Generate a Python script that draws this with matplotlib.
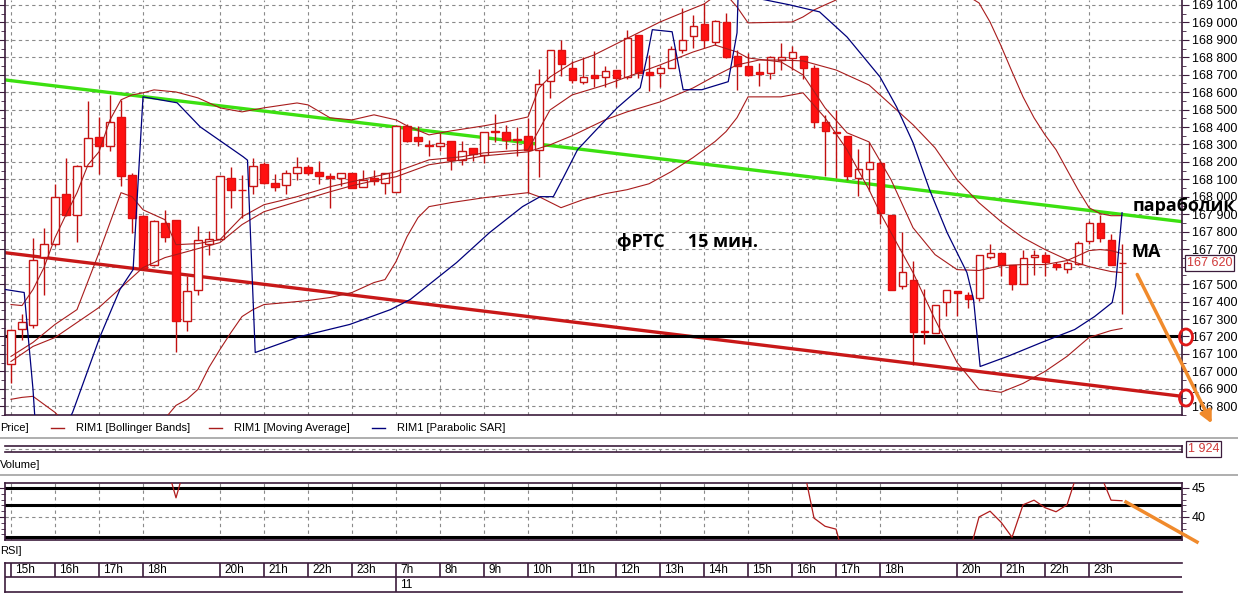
import matplotlib
matplotlib.use('Agg')
import matplotlib.pyplot as plt
import matplotlib.transforms as mtransforms
from matplotlib.patches import Ellipse
import numpy as np

# ---- data (15 min candles, index 0 = first bar) ----
OPEN = [167040, 167240, 167263, 167654, 167730, 168018, 167898, 168179, 168341, 168293,
        168455, 168123, 167893, 167608, 167851, 167870, 167288, 167469, 167730, 167759,
        168108, 168041, 168060, 168188, 168080, 168070, 168137, 168171, 168141, 168122,
        168108, 168137, 168057, 168108, 168080, 168026, 168408, 168341, 168295, 168289,
        168322, 168213, 168280, 168242, 168375, 168370, 168332, 168351, 168267, 168662,
        168839, 168738, 168658, 168700, 168684, 168725, 168686, 168929, 168713, 168709,
        168738, 168839, 168919, 168992, 168885, 169001, 168805, 168751, 168713, 168709,
        168786, 168795, 168808, 168738, 168429, 168373, 168351, 168108, 168160, 168194,
        167898, 167492, 167521, 167229, 167221, 167397, 167459, 167440, 167421, 167654,
        167679, 167608, 167501, 167654, 167666, 167616, 167587, 167618, 167746, 167851,
        167755, 167620]
HIGH = [167240, 167326, 167765, 167822, 168074, 168223, 168185, 168547, 168457, 168581,
        168557, 168137, 167898, 167870, 167927, 167870, 167545, 167835, 167807, 168122,
        168169, 168127, 168223, 168198, 168131, 168156, 168226, 168185, 168204, 168137,
        168137, 168137, 168152, 168152, 168137, 168413, 168419, 168408, 168328, 168366,
        168322, 168318, 168280, 168370, 168476, 168414, 168398, 168452, 168732, 168839,
        168900, 168776, 168801, 168833, 168747, 168725, 168957, 168929, 168814, 168757,
        168862, 169081, 169043, 169110, 169015, 169053, 168843, 168824, 168766, 168808,
        168881, 168862, 168808, 168757, 168471, 168499, 168351, 168274, 168314, 168204,
        167898, 167799, 167631, 167473, 167383, 167465, 167459, 167454, 167669, 167730,
        167679, 167608, 167694, 167694, 167685, 167627, 167631, 167746, 167860, 167898,
        167790, 167727]
LOW = [166935, 167179, 167250, 167435, 167717, 167889, 167740, 168179, 168133, 168261,
       168061, 167793, 167583, 167603, 167740, 167110, 167231, 167440, 167669, 167759,
       167937, 167879, 168017, 168076, 168032, 168017, 168099, 168127, 168074, 167937,
       168060, 168051, 168057, 168070, 168017, 168026, 168314, 168293, 168236, 168261,
       168156, 168181, 168204, 168194, 168312, 168274, 168232, 168022, 168114, 168566,
       168694, 168652, 168646, 168629, 168629, 168629, 168675, 168681, 168604, 168629,
       168738, 168824, 168852, 168852, 168871, 168795, 168614, 168690, 168637, 168675,
       168728, 168728, 168675, 168394, 168122, 168108, 168099, 168003, 168032, 167847,
       167465, 167473, 167034, 167154, 167221, 167316, 167320, 167364, 167402, 167645,
       167549, 167469, 167501, 167555, 167549, 167580, 167561, 167612, 167730, 167740,
       167612, 167326]
CLOSE = [167236, 167282, 167641, 167730, 167999, 167898, 168179, 168337, 168293, 168429,
         168118, 167879, 167593, 167860, 167770, 167288, 167459, 167750, 167761, 168122,
         168038, 168038, 168175, 168080, 168057, 168137, 168171, 168137, 168122, 168108,
         168137, 168051, 168095, 168089, 168137, 168404, 168318, 168318, 168293, 168309,
         168209, 168265, 168247, 168370, 168371, 168328, 168325, 168267, 168648, 168839,
         168761, 168667, 168686, 168679, 168723, 168681, 168910, 168709, 168700, 168738,
         168847, 168896, 168980, 168900, 169009, 168801, 168751, 168700, 168705, 168799,
         168799, 168829, 168738, 168427, 168375, 168366, 168118, 168160, 168198, 167908,
         167465, 167568, 167225, 167225, 167383, 167465, 167450, 167412, 167669, 167679,
         167608, 167501, 167650, 167669, 167627, 167599, 167622, 167736, 167851, 167765,
         167612, 167620]
LAST_PRICE = 167620
VOLUME_LAST = "1 924"

# Bollinger Bands (upper / middle / lower), Moving Average, Parabolic SAR: (bar index, price)
UPPER_IDX = [0, 1, 2, 3, 4, 5, 6, 7, 8, 9, 10, 11, 12, 13, 15, 17, 19, 21, 23, 26, 27, 29, 31, 33,
             35, 36, 38, 40, 43, 45, 47, 48, 49, 51, 53, 55, 57, 59, 61, 63, 64, 65, 66, 67, 71,
             72, 73, 74, 75, 77, 80, 83, 86, 87, 88, 89, 90, 91, 92, 93, 94, 95, 96, 97, 98, 99,
             100, 101]
UPPER_VAL = [167383, 167377, 167469, 167595, 167766, 167898, 168024, 168184, 168258, 168441,
             168556, 168584, 168596, 168613, 168601, 168567, 168510, 168487, 168510, 168538,
             168527, 168453, 168441, 168470, 168441, 168407, 168355, 168378, 168407, 168430,
             168458, 168624, 168687, 168767, 168813, 168876, 168939, 169002, 169054, 169105,
             169150, 169160, 169088, 168997, 169002, 169031, 169071, 169100, 169128, 169300,
             169480, 169480, 169250, 169150, 169111, 169002, 168865, 168717, 168573, 168453,
             168355, 168270, 168155, 168041, 167938, 167904, 167892, 167892]
MID_IDX = [0, 2, 4, 8, 10, 12, 14, 16, 19, 21, 23, 26, 29, 31, 33, 35, 38, 41, 43, 47, 49, 51,
           54, 56, 59, 62, 64, 66, 68, 70, 72, 75, 78, 80, 82, 84, 86, 88, 90, 92, 94, 96, 98,
           100, 101]
MID_VAL = [167057, 167143, 167194, 167366, 167480, 167595, 167652, 167686, 167738, 167841,
           167915, 167972, 168029, 168064, 168092, 168115, 168184, 168212, 168235, 168258,
           168298, 168350, 168441, 168487, 168544, 168624, 168693, 168756, 168784, 168784,
           168779, 168727, 168641, 168527, 168413, 168281, 168098, 167966, 167858, 167766,
           167698, 167640, 167600, 167572, 167566]
LOWER_IDX = [0, 1, 2, 3, 4, 5, 6, 7, 8, 9, 10, 11, 12, 13, 14, 15, 16, 17, 18, 19, 20, 21, 22,
             23, 25, 27, 29, 31, 33, 34, 35, 36, 37, 38, 40, 43, 47, 48, 50, 52, 54, 56, 58, 60,
             62, 64, 65, 66, 67, 70, 72, 74, 76, 78, 79, 82, 84, 86, 88, 90, 92, 94, 96, 98,
             100, 101]
LOWER_VAL = [166840, 166851, 166857, 166811, 166765, 166700, 166640, 166580, 166530, 166490,
             166470, 166490, 166540, 166620, 166730, 166805, 166840, 166897, 167023, 167126,
             167223, 167314, 167354, 167383, 167394, 167406, 167423, 167452, 167509, 167526,
             167629, 167772, 167881, 167944, 167967, 167995, 168024, 168001, 167938, 167984,
             168018, 168041, 168075, 168144, 168225, 168317, 168374, 168454, 168573, 168573,
             168596, 168453, 168270, 168041, 167909, 167566, 167297, 167051, 166897, 166880,
             166931, 167000, 167086, 167194, 167234, 167246]
MA_IDX = [0, 2, 4, 6, 8, 10, 11, 12, 14, 15, 17, 19, 21, 23, 26, 29, 31, 33, 35, 38, 41, 43,
          47, 49, 51, 54, 56, 59, 62, 64, 66, 67, 70, 72, 74, 76, 78, 80, 82, 84, 86, 88, 90,
          92, 94, 96, 97, 98, 99, 100, 101]
MA_VAL = [167086, 167166, 167269, 167354, 167680, 168024, 168001, 167926, 167869, 167726,
          167732, 167755, 167886, 167955, 168001, 168058, 168087, 168115, 168144, 168212,
          168230, 168252, 168270, 168498, 168584, 168641, 168687, 168756, 168830, 168870,
          168830, 168796, 168773, 168699, 168510, 168367, 168315, 168098, 167823, 167669,
          167583, 167578, 167606, 167612, 167612, 167635, 167663, 167692, 167698, 167692,
          167675]
SAR_IDX = [-0.5, 1.2, 2.0, 2.3, 3.5, 5.6, 8.1, 9.9, 11.1, 12.0, 15.1, 17.2, 21.1, 21.5, 22.2,
           26.3, 30.8, 34.5, 36.3, 40.5, 43.5, 46.5, 48.1, 49.3, 50.2, 51.5, 53.2, 55.1, 57.2,
           57.9, 58.3, 60.1, 61.1, 62.8, 65.2, 66.0, 66.1, 70.8, 73.5, 76.0, 79.0, 80.5, 82.0,
           83.5, 85.1, 86.9, 87.5, 88.1, 90.6, 93.7, 96.7, 98.5, 100.1, 100.4, 101.0]
SAR_VAL = [167469, 167452, 166897, 166611, 166500, 166765, 167200, 167469, 167583, 168573,
           168539, 168401, 168230, 168210, 167108, 167200, 167269, 167354, 167412, 167623,
           167795, 167944, 168001, 168001, 168109, 168270, 168384, 168510, 168625, 168826,
           168958, 168946, 168614, 168614, 168660, 168940, 169160, 169100, 169060, 168916,
           168687, 168516, 168310, 168041, 167795, 167566, 167412, 167028, 167086, 167166,
           167240, 167314, 167394, 167486, 167909]

# hand-drawn lines (bar index, price)
GREEN_LINE = [(-0.545, 168670), (106.45, 167858)]
RED_LINE = [(-0.545, 167680), (106.45, 166857)]
SUPPORT = 167200

# RSI (only the visible stretches, NaN = break)
nan = float('nan')
RSI_IDX = [14, 15, 16, nan, 72, 73, 74, 75, 76, nan, 87, 88, 89, 90, 91, 92, 93, 94, 95, 96,
           97, 98, 99, 100, 101]
RSI_VAL = [50, 43.3, 50, nan, 49, 39.8, 38.4, 37.9, 31, nan, 33, 40.0, 41.0, 39.1, 36.5, 42.1,
           42.9, 41.6, 40.9, 42.1, 48, 50, 47.5, 42.9, 42.8]
RSI_LEVELS = [45, 42.07, 36.55]

HOUR_LABELS = ['15h', '16h', '17h', '18h', '20h', '21h', '22h', '23h', '7h', '8h', '9h', '10h',
               '11h', '12h', '13h', '14h', '15h', '16h', '17h', '18h', '20h', '21h', '22h', '23h']
HOUR_IDX = [0, 4, 8, 12, 19, 23, 27, 31, 35, 39, 43, 47, 51, 55, 59, 63, 67, 71, 75, 79, 86, 90,
            94, 98]
DAY_IDX = 35
DAY_LABEL = '11'

# ---- layout ----
W, H = 1238, 596
fig = plt.figure(figsize=(W / 100, H / 100), dpi=100)
fig.patch.set_facecolor('white')
plt.rcParams['font.family'] = ['Liberation Sans', 'DejaVu Sans']

FRAME = '#3c1c3c'
GRID = '#8a8a8a'
BAND = '#a81c1c'
XL = (-0.545, 106.45)


def px_axes(x0, y0, x1, y1):
    return fig.add_axes([x0 / W, 1 - y1 / H, (x1 - x0) / W, (y1 - y0) / H])


def style_frame(a, top=True):
    for s in a.spines.values():
        s.set_color(FRAME)
        s.set_linewidth(1.2)
    a.spines['top'].set_visible(top)


def thousands(v):
    return f"{int(v) // 1000} {int(v) % 1000:03d}"


# ---- price panel ----
ax = px_axes(5, 0, 1182, 415)
ax.set_xlim(XL)
ax.set_ylim(166754, 169128)
style_frame(ax, top=False)
for p in range(166800, 169101, 100):
    ax.axhline(p, color=GRID, lw=0.8, ls=(0, (3, 3)), zorder=0)
for i in HOUR_IDX:
    ax.axvline(i, color=GRID, lw=0.8, ls=(0, (3, 3)), zorder=0)

ax.set_xticks([])
price_ticks = list(range(166800, 169101, 100))
ax.set_yticks(price_ticks)
# the tick hidden under the last-price tag is left blank
ax.set_yticklabels(['' if abs(v - LAST_PRICE) < 50 else thousands(v) for v in price_ticks])
ax.set_yticks(range(166750, 169150, 50), minor=True)
ax.tick_params(axis='y', which='both', left=True, right=True, labelleft=False,
               labelright=True, direction='out', color=FRAME, labelsize=9, pad=2)
ax.tick_params(axis='y', which='major', length=5)
ax.tick_params(axis='y', which='minor', length=3)

# trend lines
ax.plot([p[0] for p in GREEN_LINE], [p[1] for p in GREEN_LINE], color='#3ce010', lw=2.4, zorder=2)
ax.plot([p[0] for p in RED_LINE], [p[1] for p in RED_LINE], color='#c81818', lw=2.4, zorder=2)
ax.axhline(SUPPORT, color='black', lw=2.2, zorder=2)

# indicators
ax.plot(UPPER_IDX, UPPER_VAL, color=BAND, lw=0.8, zorder=5)
ax.plot(MID_IDX, MID_VAL, color=BAND, lw=0.8, zorder=5)
ax.plot(LOWER_IDX, LOWER_VAL, color=BAND, lw=0.8, zorder=5)
ax.plot(MA_IDX, MA_VAL, color=BAND, lw=0.8, zorder=5)
ax.plot(SAR_IDX, SAR_VAL, color='#00007c', lw=0.9, zorder=5)

# candles
o, h, l, c = (np.array(a, dtype=float) for a in (OPEN, HIGH, LOW, CLOSE))
idx = np.arange(len(o))
up = c >= o
ax.vlines(idx, l, h, color='#c01010', lw=1.0, zorder=3)
ax.bar(idx[up], np.maximum(c - o, 2)[up], bottom=o[up], width=0.64, facecolor='white',
       edgecolor='#c81414', lw=1.0, zorder=4)
ax.bar(idx[~up], np.maximum(o - c, 2)[~up], bottom=c[~up], width=0.64, facecolor='#ff1010',
       edgecolor='#e01010', lw=1.0, zorder=4)

# last price tag
trans = mtransforms.blended_transform_factory(ax.transAxes, ax.transData)
ax.text(1.004, LAST_PRICE, thousands(LAST_PRICE), transform=trans, color='#d03838', fontsize=9,
        va='center', ha='left', zorder=10,
        bbox=dict(boxstyle='square,pad=0.15', fc='white', ec=FRAME, lw=0.9))

# ---- volume strip ----
av = px_axes(5, 446, 1182, 452)
av.set_xlim(XL)
av.set_ylim(0, 1)
style_frame(av)
av.spines['left'].set_visible(False)
av.set_xticks([])
av.set_yticks([])
av.axhline(0.5, color=GRID, lw=0.8, ls=(0, (3, 3)))
for i in HOUR_IDX:
    av.axvline(i, color=GRID, lw=0.8, ls=(0, (3, 3)))
av.text(1.005, 0.5, VOLUME_LAST, transform=av.transAxes, color='#d03838', fontsize=9,
        va='center', ha='left', bbox=dict(boxstyle='square,pad=0.15', fc='white', ec=FRAME, lw=0.9))

# ---- RSI panel ----
ar = px_axes(5, 483, 1182, 540)
ar.set_xlim(XL)
ar.set_ylim(36.03, 45.86)
style_frame(ar)
for lv in RSI_LEVELS:
    ar.axhline(lv, color='black', lw=2.2, zorder=2)
ar.axhline(40, color=GRID, lw=0.8, ls=(0, (3, 3)), zorder=1)
for i in HOUR_IDX:
    ar.axvline(i, color=GRID, lw=0.8, ls=(0, (3, 3)), zorder=1)
ar.plot(RSI_IDX, RSI_VAL, color='#b01c1c', lw=0.9, zorder=3)
ar.set_xticks([])
ar.set_yticks([40, 45])
ar.set_yticks(range(37, 46), minor=True)
ar.tick_params(axis='y', which='both', left=True, right=True, labelleft=False, labelright=True,
               direction='out', color=FRAME, labelsize=9, pad=2)
ar.tick_params(axis='y', which='major', length=5)
ar.tick_params(axis='y', which='minor', length=3)

# ---- time axis ----
at = px_axes(5, 563, 1182, 592)
at.set_xlim(XL)
at.set_ylim(0, 29)
for s in at.spines.values():
    s.set_color(FRAME)
    s.set_linewidth(1.2)
at.spines['right'].set_visible(False)
at.set_xticks([])
at.set_yticks([])
at.axhline(15, color=FRAME, lw=1.2)
for i, lab in zip(HOUR_IDX, HOUR_LABELS):
    at.vlines(i, 0 if i == DAY_IDX else 15, 29, color=FRAME, lw=1.2)
    at.text(i + 0.4, 22, lab, fontsize=8.5, va='center', ha='left')
at.text(DAY_IDX + 0.4, 7.5, DAY_LABEL, fontsize=8.5, va='center', ha='left')

# ---- overlay: captions, separators, annotations (pixel coordinates) ----
ov = fig.add_axes([0, 0, 1, 1])
ov.set_xlim(0, W)
ov.set_ylim(H, 0)
ov.axis('off')

ov.plot([0, W], [438, 438], color='#a8a8a8', lw=1.3)
ov.plot([0, W], [475, 475], color='#a8a8a8', lw=1.3)
ov.text(0, 428, 'Price]', fontsize=8, va='center')
ov.text(0, 465, 'Volume]', fontsize=8, va='center')
ov.text(0, 551, 'RSI]', fontsize=8, va='center')

legend = [(51, BAND, 'RIM1 [Bollinger Bands]'), (209, BAND, 'RIM1 [Moving Average]'),
          (372, '#00007c', 'RIM1 [Parabolic SAR]')]
for x0, col, lab in legend:
    ov.plot([x0, x0 + 13], [428, 428], color=col, lw=1)
    ov.text(x0 + 25, 428, lab, fontsize=8, va='center')

bold = dict(fontsize=13, fontweight='bold', va='center', family=['Open Sans', 'DejaVu Sans'])
ov.text(617, 242, 'фРТС     15 мин.', **bold)
ov.text(1133, 206, 'параболик', **bold)
ov.text(1131, 252, 'МА', **bold)

for cy in (337, 398):
    ov.add_patch(Ellipse((1186, cy), 13, 16, fc='none', ec='#e01818', lw=2))
ov.annotate('', xy=(1213, 426), xytext=(1136, 272), annotation_clip=False,
            arrowprops=dict(arrowstyle='-|>,head_length=0.7,head_width=0.35',
                            color='#f08a2c', lw=2.5))
ov.plot([1126, 1197], [502, 542], color='#f08a2c', lw=2.5)

fig.savefig('out.png', dpi=100)
